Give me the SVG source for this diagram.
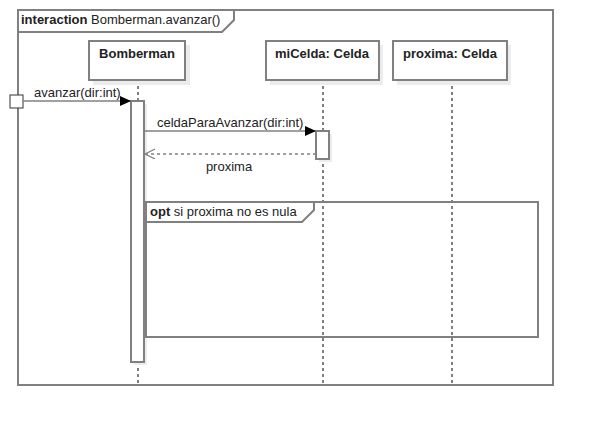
<svg xmlns="http://www.w3.org/2000/svg" width="594" height="426" viewBox="0 0 594 426">
<style>
.frame{fill:none;stroke:#808080;stroke-width:2}
.box{fill:#fff;stroke:#808080;stroke-width:2}
.shadow{fill:#ececec}
.life{stroke:#000;stroke-width:1;stroke-dasharray:3,3;fill:none}
.msg{stroke:#808080;stroke-width:1.5;fill:none}
.ret{stroke:#808080;stroke-width:1.5;fill:none;stroke-dasharray:3,3}
text{font-family:"Liberation Sans",Arial,sans-serif;font-size:13px;fill:#222}
.b{font-weight:bold}
</style>
<defs>
<marker id="filled" markerWidth="12" markerHeight="10" refX="11" refY="5" orient="auto" markerUnits="userSpaceOnUse">
<path d="M0,0 L11,5 L0,10 Z" fill="#000"/>
</marker>
<marker id="open" markerWidth="12" markerHeight="12" refX="10" refY="5" orient="auto" markerUnits="userSpaceOnUse">
<path d="M0,0 L10,5 L0,10" fill="none" stroke="#808080" stroke-width="1.2"/>
</marker>
</defs>
<rect width="594" height="426" fill="#fff"/>
<g id="frame">
<rect class="frame" x="18" y="10" width="535" height="375"/>
<path class="frame" d="M18,32 L222,32 L234,20 L234,10" stroke-width="1.5"/>
<text x="21" y="24"><tspan class="b">interaction</tspan> Bomberman.avanzar()</text>
</g>
<g id="lifelines">
<line class="life" x1="138" y1="80" x2="138" y2="385"/>
<line class="life" x1="323" y1="80" x2="323" y2="385"/>
<line class="life" x1="452" y1="80" x2="452" y2="385"/>
</g>
<g id="Bomberman">
<rect class="shadow" x="93" y="45" width="97" height="40"/>
<rect class="box" x="89" y="41" width="96" height="39"/>
<text class="b" x="137" y="58" text-anchor="middle">Bomberman</text>
</g>
<g id="miCelda">
<rect class="shadow" x="270" y="45" width="113" height="40"/>
<rect class="box" x="266" y="41" width="113" height="39"/>
<text class="b" x="322" y="58" text-anchor="middle">miCelda: Celda</text>
</g>
<g id="proxima">
<rect class="shadow" x="397" y="45" width="114" height="40"/>
<rect class="box" x="393" y="41" width="114" height="39"/>
<text class="b" x="450" y="58" text-anchor="middle">proxima: Celda</text>
</g>
<g id="activations">
<rect class="shadow" x="134" y="104" width="13" height="261"/>
<rect class="box" x="131" y="101" width="13" height="261" stroke-width="1.5"/>
<rect class="shadow" x="319" y="134" width="13" height="28"/>
<rect class="box" x="316" y="131" width="13" height="28" stroke-width="1.5"/>
</g>
<g id="found">
<rect x="10" y="95" width="13" height="13" fill="#fff" stroke="#333" stroke-width="1"/>
</g>
<g id="connectors">
<line class="msg" x1="23" y1="101" x2="131" y2="101" marker-end="url(#filled)"/>
<text x="34" y="97">avanzar(dir:int)</text>
<line class="msg" x1="144" y1="131" x2="316" y2="131" marker-end="url(#filled)"/>
<text x="157" y="127">celdaParaAvanzar(dir:int)</text>
<line class="ret" x1="316" y1="154" x2="145" y2="154" marker-end="url(#open)"/>
<text x="229" y="171" text-anchor="middle">proxima</text>
</g>
<g id="opt">
<rect class="frame" x="146" y="202" width="392" height="135"/>
<path class="frame" d="M146,222 L302,222 L314,210 L314,202" stroke-width="1.5"/>
<text x="150" y="216"><tspan class="b">opt</tspan> si proxima no es nula</text>
</g>
</svg>
